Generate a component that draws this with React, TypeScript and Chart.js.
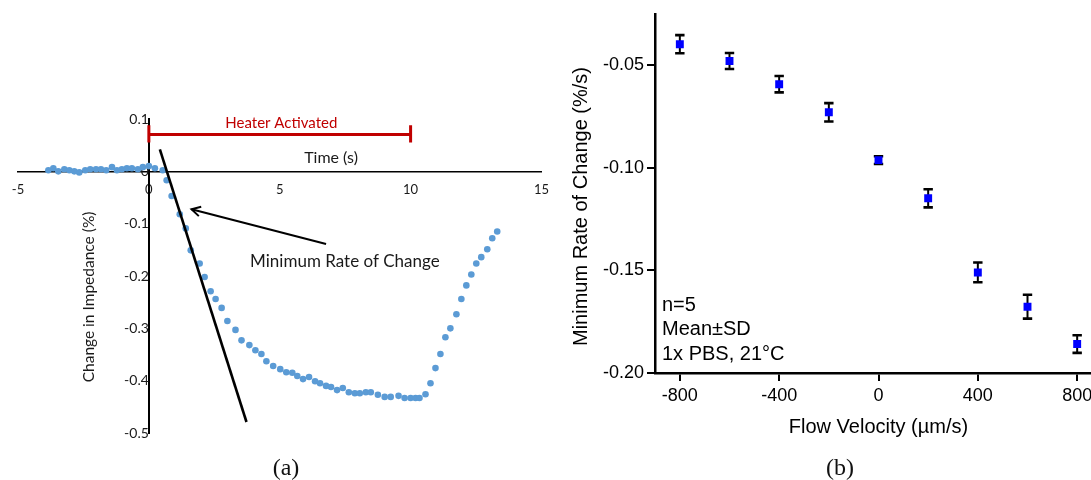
import React, { useEffect, useRef } from "react";
import { Chart, registerables } from "chart.js";

Chart.register(...registerables);

// ---------------- Panel (a): impedance change vs time ----------------
const timeSeconds = [
  -3.84, -3.65, -3.46, -3.23, -3.04, -2.85, -2.66, -2.43, -2.24, -2.02, -1.83,
  -1.63, -1.41, -1.22, -1.03, -0.84, -0.65, -0.42, -0.23, 0, 0.23, 0.53,
  0.68, 0.87, 1.18, 1.41, 1.6, 1.94, 2.13, 2.36, 2.55, 2.78, 3.0, 3.31, 3.54,
  3.84, 4.07, 4.3, 4.49, 4.75, 5.02, 5.25, 5.48, 5.67, 5.89, 6.12, 6.35, 6.54,
  6.77, 6.96, 7.19, 7.41, 7.64, 7.87, 8.06, 8.29, 8.48, 8.75, 9.01, 9.24, 9.54,
  9.77, 10.0, 10.19, 10.34, 10.57, 10.76, 10.95, 11.14, 11.33, 11.52, 11.75,
  11.94, 12.13, 12.32, 12.51, 12.7, 12.93, 13.12, 13.31,
];
const impedanceChange = [
  0.002, 0.006, 0, 0.004, 0.002, 0, -0.002, 0.002, 0.004, 0.004, 0.004,
  0.002, 0.008, 0.002, 0.004, 0.006, 0.006, 0.004, 0.008, 0.01, 0.006, 0.002,
  -0.017, -0.047, -0.082, -0.109, -0.151, -0.176, -0.202, -0.229, -0.244,
  -0.261, -0.286, -0.303, -0.323, -0.332, -0.342, -0.349, -0.363, -0.372,
  -0.378, -0.384, -0.385, -0.391, -0.397, -0.393, -0.401, -0.405, -0.41,
  -0.412, -0.418, -0.414, -0.422, -0.424, -0.424, -0.422, -0.422, -0.427,
  -0.431, -0.431, -0.429, -0.433, -0.433, -0.433, -0.433, -0.426, -0.405,
  -0.376, -0.349, -0.317, -0.3, -0.273, -0.244, -0.218, -0.197, -0.176,
  -0.164, -0.149, -0.128, -0.115,
];
const tangentX = [0.42, 3.73];
const tangentY = [0.042, -0.479];
const arrowX = [6.77, 1.63];
const arrowY = [-0.139, -0.0725];
const heaterSpan = [0, 10];
const heaterLevel = 0.0706;
const heaterCap = [0.088, 0.055];
const xTicksA = [-5, 0, 5, 10, 15];
const yTicksA = [0.1, 0, -0.1, -0.2, -0.3, -0.4, -0.5];

// ---------------- Panel (b): minimum rate vs flow velocity ----------------
const flowVelocity = [-800, -600, -400, -200, 0, 200, 400, 600, 800];
const minRate = [
  -0.0398, -0.048, -0.0593, -0.073, -0.0963, -0.1149, -0.151, -0.1677, -0.1859,
];
const minRateSD = [
  0.0044, 0.0039, 0.004, 0.0045, 0.0019, 0.0044, 0.0048, 0.0058, 0.0043,
];
const xTicksB = [-800, -400, 0, 400, 800];
const yTicksB = [-0.05, -0.1, -0.15, -0.2];
const notesB = ["n=5", "Mean±SD", "1x PBS, 21°C"];

const FONT_A = "Lato, 'Open Sans', sans-serif";
const FONT_B = "'Liberation Sans', Arial, sans-serif";
const HEATER_RED = "#C00000";
const TEXT_A = "#1a1a1a";

const annotationsA = {
  id: "annotationsA",
  afterDatasetsDraw(chart: any) {
    const { ctx } = chart;
    const xs = chart.scales.x;
    const ys = chart.scales.y;
    const px = (v: number) => xs.getPixelForValue(v);
    const py = (v: number) => ys.getPixelForValue(v);
    ctx.save();
    // Heater bracket
    ctx.strokeStyle = HEATER_RED;
    ctx.lineWidth = 3;
    ctx.beginPath();
    ctx.moveTo(px(heaterSpan[0]), py(heaterLevel));
    ctx.lineTo(px(heaterSpan[1]), py(heaterLevel));
    for (const hx of heaterSpan) {
      ctx.moveTo(px(hx), py(heaterCap[0]));
      ctx.lineTo(px(hx), py(heaterCap[1]));
    }
    ctx.stroke();
    // Arrow
    const tx = px(arrowX[0]);
    const ty = py(arrowY[0]);
    const hx = px(arrowX[1]);
    const hy = py(arrowY[1]);
    ctx.strokeStyle = "#000";
    ctx.lineWidth = 2;
    ctx.beginPath();
    ctx.moveTo(tx, ty);
    ctx.lineTo(hx, hy);
    ctx.stroke();
    const ang = Math.atan2(hy - ty, hx - tx);
    const L = 10;
    const A = 0.5;
    ctx.beginPath();
    ctx.moveTo(hx - L * Math.cos(ang - A), hy - L * Math.sin(ang - A));
    ctx.lineTo(hx, hy);
    ctx.lineTo(hx - L * Math.cos(ang + A), hy - L * Math.sin(ang + A));
    ctx.stroke();
    // Texts
    ctx.textAlign = "center";
    ctx.textBaseline = "middle";
    ctx.fillStyle = HEATER_RED;
    ctx.font = `15px ${FONT_A}`;
    ctx.fillText("Heater Activated", px(5.06), py(0.092));
    ctx.fillStyle = TEXT_A;
    ctx.font = `16px ${FONT_A}`;
    ctx.fillText("Time (s)", px(6.96), py(0.025));
    ctx.font = `17px ${FONT_A}`;
    ctx.fillText("Minimum Rate of Change", px(7.49), py(-0.172));
    ctx.save();
    ctx.translate(px(-2.28), py(-0.24));
    ctx.rotate(-Math.PI / 2);
    ctx.font = `15.5px ${FONT_A}`;
    ctx.fillText("Change in Impedance (%)", 0, 0);
    ctx.restore();
    ctx.restore();
  },
};

const errorBarsB = {
  id: "errorBarsB",
  beforeDatasetsDraw(chart: any) {
    const { ctx } = chart;
    const xs = chart.scales.x;
    const ys = chart.scales.y;
    ctx.save();
    ctx.strokeStyle = "#000";
    flowVelocity.forEach((v, i) => {
      const x = xs.getPixelForValue(v);
      const top = ys.getPixelForValue(minRate[i] + minRateSD[i]);
      const bot = ys.getPixelForValue(minRate[i] - minRateSD[i]);
      ctx.lineWidth = 2;
      ctx.beginPath();
      ctx.moveTo(x, top);
      ctx.lineTo(x, bot);
      ctx.stroke();
      ctx.lineWidth = 2.6;
      ctx.beginPath();
      ctx.moveTo(x - 4.7, top);
      ctx.lineTo(x + 4.7, top);
      ctx.moveTo(x - 4.7, bot);
      ctx.lineTo(x + 4.7, bot);
      ctx.stroke();
    });
    ctx.restore();
  },
  afterDraw(chart: any) {
    const { ctx, chartArea } = chart;
    ctx.save();
    ctx.fillStyle = "#000";
    ctx.font = `20px ${FONT_B}`;
    ctx.textAlign = "center";
    ctx.textBaseline = "middle";
    ctx.save();
    ctx.translate(21, 206.5);
    ctx.rotate(-Math.PI / 2);
    ctx.fillText("Minimum Rate of Change (%/s)", 0, 0);
    ctx.restore();
    ctx.textAlign = "left";
    notesB.forEach((t, i) => {
      ctx.fillText(t, chartArea.left + 7, chartArea.bottom - 68 + i * 24.5);
    });
    ctx.restore();
  },
};

function PanelA() {
  const ref = useRef<HTMLCanvasElement>(null);
  useEffect(() => {
    const chart = new Chart(ref.current as HTMLCanvasElement, {
      type: "scatter",
      data: {
        datasets: [
          {
            type: "line",
            data: tangentX.map((x, i) => ({ x, y: tangentY[i] })),
            borderColor: "#000",
            borderWidth: 2.6,
            pointRadius: 0,
            fill: false,
          } as any,
          {
            data: timeSeconds.map((x, i) => ({ x, y: impedanceChange[i] })),
            backgroundColor: "#5B9BD5",
            borderColor: "#5B9BD5",
            borderWidth: 0,
            pointRadius: 3.3,
          },
        ],
      },
      options: {
        responsive: false,
        animation: false,
        layout: { padding: { left: 18, right: 16, top: 119, bottom: 47 } },
        plugins: { legend: { display: false }, tooltip: { enabled: false } },
        scales: {
          x: {
            type: "linear",
            min: -5,
            max: 15,
            position: { y: 0 } as any,
            afterBuildTicks: (s: any) => {
              s.ticks = xTicksA.map((v) => ({ value: v }));
            },
            grid: { display: false, drawTicks: false },
            border: { display: true, color: "#000", width: 1.6 },
            ticks: {
              color: TEXT_A,
              font: { family: FONT_A, size: 13 },
              padding: 11,
              autoSkip: false,
              maxRotation: 0,
              callback: (v: any) => String(v),
            },
          },
          y: {
            type: "linear",
            min: -0.5,
            max: 0.1,
            position: { x: 0 } as any,
            afterBuildTicks: (s: any) => {
              s.ticks = yTicksA.map((v) => ({ value: v }));
            },
            grid: { display: false, drawTicks: false },
            border: { display: true, color: "#000", width: 2 },
            ticks: {
              color: TEXT_A,
              font: { family: FONT_A, size: 14 },
              padding: 13,
              autoSkip: false,
              callback: (v: any) => String(Math.round(Number(v) * 10) / 10),
            },
          },
        },
      },
      plugins: [annotationsA],
    });
    return () => chart.destroy();
  }, []);
  return (
    <canvas
      ref={ref}
      width={560}
      height={480}
      style={{ position: "absolute", left: 0, top: 0, width: 560, height: 480 }}
    />
  );
}

function PanelB() {
  const ref = useRef<HTMLCanvasElement>(null);
  useEffect(() => {
    const chart = new Chart(ref.current as HTMLCanvasElement, {
      type: "scatter",
      data: {
        datasets: [
          {
            data: flowVelocity.map((x, i) => ({ x, y: minRate[i] })),
            backgroundColor: "#0000FF",
            borderColor: "#0000FF",
            borderWidth: 0,
            pointStyle: "rect",
            pointRadius: 5.6,
          },
        ],
      },
      options: {
        responsive: false,
        animation: false,
        layout: { padding: { left: 0, right: 18, top: 13, bottom: 0 } },
        plugins: { legend: { display: false }, tooltip: { enabled: false } },
        scales: {
          x: {
            type: "linear",
            min: -900,
            max: 900,
            afterBuildTicks: (s: any) => {
              s.ticks = xTicksB.map((v) => ({ value: v }));
            },
            afterFit: (s: any) => {
              s.height = 107;
            },
            grid: {
              display: true,
              drawOnChartArea: false,
              drawTicks: true,
              tickLength: 8,
              color: "#000",
              lineWidth: 2,
            },
            border: { display: true, color: "#000", width: 2.5 },
            ticks: {
              color: "#000",
              font: { family: FONT_B, size: 18 },
              padding: 4,
              autoSkip: false,
              maxRotation: 0,
              callback: (v: any) => String(v),
            },
            title: {
              display: true,
              text: "Flow Velocity (µm/s)",
              color: "#000",
              font: { family: FONT_B, size: 20 },
              padding: { top: 0, bottom: 41 },
            },
          },
          y: {
            type: "linear",
            min: -0.2,
            max: -0.025,
            afterBuildTicks: (s: any) => {
              s.ticks = yTicksB.map((v) => ({ value: v }));
            },
            afterFit: (s: any) => {
              s.width = 95;
            },
            grid: {
              display: true,
              drawOnChartArea: false,
              drawTicks: true,
              tickLength: 8,
              color: "#000",
              lineWidth: 2,
            },
            border: { display: true, color: "#000", width: 2.5 },
            ticks: {
              color: "#000",
              font: { family: FONT_B, size: 18 },
              padding: 3,
              autoSkip: false,
              callback: (v: any) => Number(v).toFixed(2),
            },
          },
        },
      },
      plugins: [errorBarsB],
    });
    return () => chart.destroy();
  }, []);
  return (
    <canvas
      ref={ref}
      width={560}
      height={480}
      style={{ position: "absolute", left: 560, top: 0, width: 560, height: 480 }}
    />
  );
}

const captionStyle: React.CSSProperties = {
  position: "absolute",
  top: 467,
  transform: "translate(-50%, -50%)",
  fontFamily: "'Liberation Serif', 'DejaVu Serif', serif",
  fontSize: 24,
  lineHeight: 1,
  color: "#111",
};

export default function App() {
  return (
    <div
      style={{
        position: "fixed",
        left: 0,
        top: 0,
        width: 1091,
        height: 480,
        overflow: "hidden",
        background: "#fff",
      }}
    >
      <PanelA />
      <PanelB />
      <div style={{ ...captionStyle, left: 286 }}>(a)</div>
      <div style={{ ...captionStyle, left: 840 }}>(b)</div>
    </div>
  );
}
